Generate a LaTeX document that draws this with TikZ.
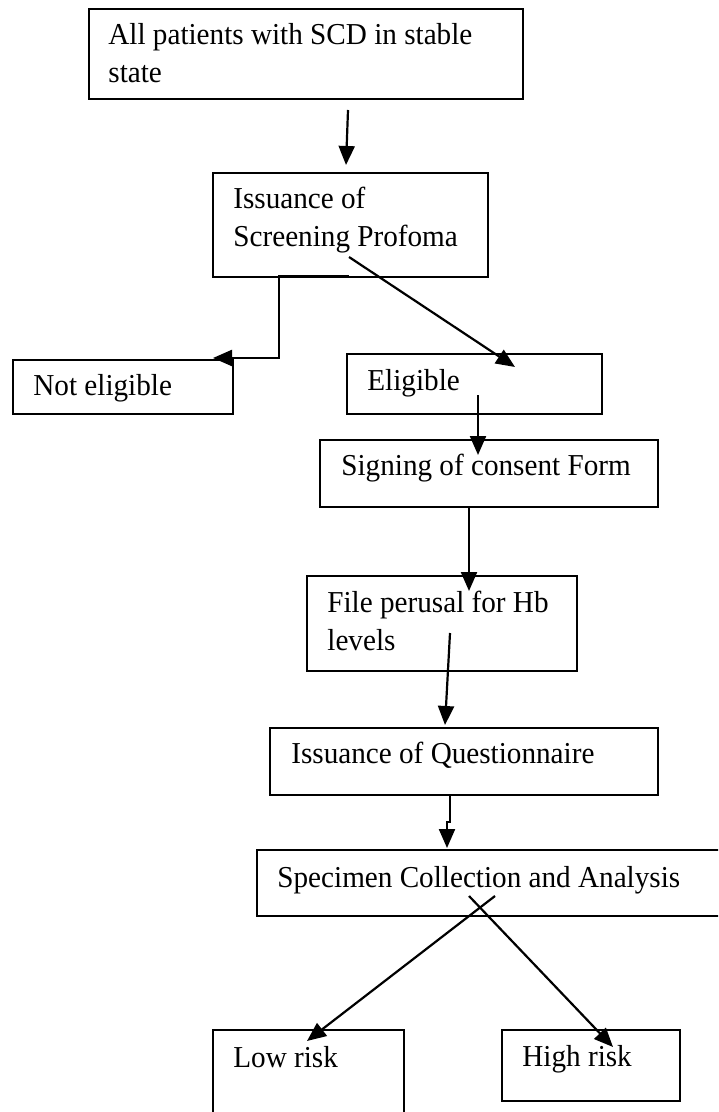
\documentclass[tikz,border=0pt]{standalone}
\usepackage{fontspec}
\setmainfont[FakeStretch=0.96]{Liberation Serif}
\usetikzlibrary{arrows.meta}
\begin{document}
\begin{tikzpicture}[x=0.5pt,y=-0.5pt,
  box/.style={draw, line width=1.1pt, rectangle, inner sep=0pt, anchor=north west},
  lbl/.style={anchor=base west, inner sep=0pt, font=\fontsize{15.2pt}{19pt}\selectfont},
  conn/.style={line width=1.1pt, -{Triangle[length=9.5pt,width=8pt]}}]
\useasboundingbox (0,0) rectangle (718,1112);
\clip (0,0) rectangle (718,1112);
% boxes
\node[box, minimum width=217pt, minimum height=45pt] (b1) at (88,8) {};
\node[box, minimum width=137.5pt, minimum height=52pt] (b2) at (212,172) {};
\node[box, minimum width=110pt, minimum height=27pt] (b3) at (12,359) {};
\node[box, minimum width=127.5pt, minimum height=30pt] (b4) at (346,353) {};
\node[box, minimum width=169pt, minimum height=33.5pt] (b5) at (319,439) {};
\node[box, minimum width=135pt, minimum height=47.5pt] (b6) at (306,575) {};
\node[box, minimum width=194pt, minimum height=33.5pt] (b7) at (269,727) {};
\node[box, minimum width=237pt, minimum height=33pt] (b8) at (256,849) {};
\node[box, minimum width=95.5pt, minimum height=45.5pt] (b9) at (212,1029) {};
\node[box, minimum width=89pt, minimum height=35.5pt] (b10) at (501,1029) {};
% labels
\node[lbl] (t1) at (108,45) {\parbox[t]{300pt}{\raggedright All patients with SCD in stable\\state}};
\node[lbl] (t2) at (233,209) {\parbox[t]{300pt}{\raggedright Issuance of\\Screening Profoma}};
\node[lbl] (t3) at (33,395) {Not eligible};
\node[lbl] (t4) at (367,390) {Eligible};
\node[lbl] (t5) at (341,475) {Signing of consent Form};
\node[lbl] (t6) at (327,612) {\parbox[t]{300pt}{\raggedright File perusal for Hb\\levels}};
\node[lbl] (t7) at (291,763) {Issuance of Questionnaire};
\node[lbl] (t8) at (277,887) {Specimen Collection and Analysis};
\node[lbl] (t9) at (233,1067) {Low risk};
\node[lbl] (t10) at (522,1066) {High risk};
% connector end points
\coordinate (a1s) at (348,110);  \coordinate (a1e) at (346,165);
\coordinate (a2s) at (349,276);  \coordinate (a2m) at (279,358); \coordinate (a2e) at (213,358);
\coordinate (a3s) at (349,257);  \coordinate (a3e) at (515,367);
\coordinate (a4s) at (478,395);  \coordinate (a4e) at (478,455);
\coordinate (a5s) at (469,506);  \coordinate (a5e) at (469,591);
\coordinate (a6s) at (450,633);  \coordinate (a6e) at (445,725);
\coordinate (a7s) at (450,794);  \coordinate (a7m) at (450,822); \coordinate (a7e) at (447,848);
\coordinate (a8s) at (495,896);  \coordinate (a8e) at (307,1041);
\coordinate (a9s) at (469,896);  \coordinate (a9e) at (613,1047);
% connectors
\draw[conn] (a1s) -- (a1e);
\draw[conn] (a2s) -| (a2m) -- (a2e);
\draw[conn] (a3s) -- (a3e);
\draw[conn] (a4s) -- (a4e);
\draw[conn] (a5s) -- (a5e);
\draw[conn] (a6s) -- (a6e);
\draw[conn] (a7s) -- (a7m) -| (a7e);
\draw[conn] (a8s) -- (a8e);
\draw[conn] (a9s) -- (a9e);
\end{tikzpicture}
\end{document}
